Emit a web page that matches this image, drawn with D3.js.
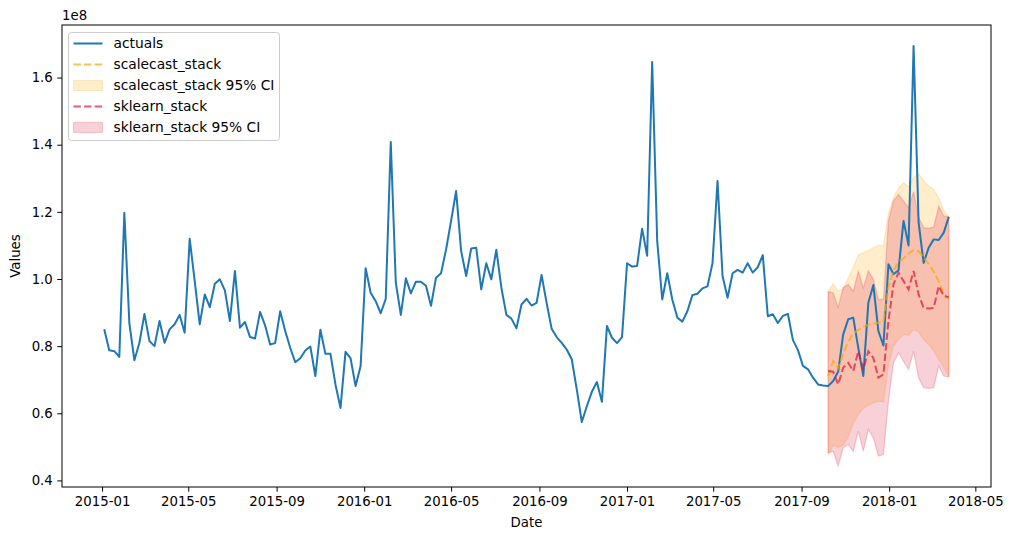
<!DOCTYPE html>
<html>
<head>
<meta charset="utf-8">
<script src="https://cdn.jsdelivr.net/npm/d3@7"></script>
<style>
  body { margin: 0; background: #fff; }
  svg { display: block; font-family: "DejaVu Sans", sans-serif; }
</style>
</head>
<body>
<svg width="1014" height="540"></svg>
<script>
// values are in units of 1e8 (matplotlib offset label)
const START_DATE = new Date(2015, 0, 4);
const FORECAST_START = 144; // index of first forecast week (2017-10-08)

const actuals = [
  0.850, 0.788, 0.785, 0.768, 1.197, 0.868, 0.758, 0.810, 0.896, 0.815,
  0.800, 0.875, 0.810, 0.850, 0.865, 0.893, 0.840, 1.120, 0.994, 0.865,
  0.954, 0.916, 0.986, 0.999, 0.966, 0.875, 1.024, 0.855, 0.872, 0.827,
  0.823, 0.902, 0.862, 0.805, 0.809, 0.904, 0.845, 0.795, 0.752, 0.764,
  0.787, 0.799, 0.711, 0.849, 0.777, 0.777, 0.686, 0.616, 0.783, 0.764,
  0.681, 0.741, 1.032, 0.959, 0.934, 0.898, 0.941, 1.408, 0.989, 0.893,
  1.002, 0.957, 0.992, 0.992, 0.980, 0.920, 1.004, 1.017, 1.088, 1.173,
  1.262, 1.083, 1.009, 1.091, 1.093, 0.969, 1.047, 0.999, 1.087, 0.974,
  0.893, 0.882, 0.853, 0.924, 0.941, 0.921, 0.929, 1.012, 0.929, 0.852,
  0.827, 0.810, 0.790, 0.761, 0.671, 0.574, 0.621, 0.664, 0.693, 0.634,
  0.860, 0.825, 0.809, 0.827, 1.047, 1.037, 1.039, 1.150, 1.069, 1.646,
  1.113, 0.939, 1.017, 0.939, 0.885, 0.873, 0.904, 0.952, 0.956, 0.972,
  0.978, 1.047, 1.292, 1.009, 0.944, 1.017, 1.027, 1.019, 1.047, 1.019,
  1.035, 1.071, 0.889, 0.895, 0.869, 0.890, 0.896, 0.818, 0.788, 0.741,
  0.731, 0.706, 0.686, 0.683, 0.681, 0.696, 0.724, 0.835, 0.880, 0.885,
  0.795, 0.711, 0.929, 0.982, 0.845, 0.802, 1.044, 1.014, 1.026, 1.173,
  1.100, 1.694, 1.168, 1.048, 1.093, 1.118, 1.116, 1.138, 1.185
];

const scalecastStack = [
  0.710, 0.755, 0.735, 0.778, 0.812, 0.838, 0.848, 0.858, 0.864, 0.867,
  0.870, 0.872, 0.975, 1.025, 1.050, 1.062, 1.076, 1.086, 1.082, 1.065,
  1.044, 1.022, 0.993, 0.955, 0.940
];
const scalecastUpper = [
  0.962, 0.986, 0.964, 0.970, 1.004, 1.034, 1.072, 1.078, 1.085, 1.093,
  1.100, 1.100, 1.195, 1.242, 1.270, 1.287, 1.275, 1.302, 1.314, 1.292,
  1.277, 1.267, 1.242, 1.205, 1.185
];
const scalecastLower = [
  0.474, 0.505, 0.498, 0.505, 0.530, 0.570, 0.597, 0.615, 0.625, 0.631,
  0.636, 0.634, 0.745, 0.800, 0.820, 0.835, 0.832, 0.850, 0.842, 0.820,
  0.805, 0.787, 0.760, 0.738, 0.708
];

const sklearnStack = [
  0.726, 0.724, 0.686, 0.736, 0.750, 0.726, 0.785, 0.731, 0.785, 0.765,
  0.706, 0.716, 0.875, 0.984, 1.019, 0.994, 0.969, 1.024, 0.954, 0.914,
  0.912, 0.914, 0.979, 0.949, 0.946
];
const sklearnUpper = [
  0.962, 0.959, 0.916, 0.974, 0.984, 0.964, 1.022, 0.974, 1.024, 0.999,
  0.939, 0.939, 1.173, 1.232, 1.252, 1.232, 1.212, 1.260, 1.183, 1.153,
  1.151, 1.155, 1.217, 1.188, 1.185
];
const sklearnLower = [
  0.482, 0.487, 0.443, 0.497, 0.507, 0.487, 0.547, 0.487, 0.552, 0.527,
  0.472, 0.477, 0.636, 0.750, 0.780, 0.755, 0.731, 0.785, 0.706, 0.676,
  0.674, 0.676, 0.741, 0.711, 0.708
];

const xTickDates = ["2015-01", "2015-05", "2015-09", "2016-01", "2016-05", "2016-09",
  "2017-01", "2017-05", "2017-09", "2018-01", "2018-05"];
const yTicks = [0.4, 0.6, 0.8, 1.0, 1.2, 1.4, 1.6];

const [LEFT, RIGHT, TOP, BOTTOM] = [62, 991, 25, 487];
const FONT = 13.3;
const LEGEND_FONT = 13.8;
const DASH = "7.4,3.2";
const LINE_ALPHA = 0.7;

const dates = actuals.map((d, i) => d3.timeDay.offset(START_DATE, 7 * i));
const fDates = dates.slice(FORECAST_START);

const svg = d3.select("svg");

// matplotlib style 5% margins
const pad = (lo, hi) => { const m = (hi - lo) * 0.05; return [lo - m, hi + m]; };
const xExt = d3.extent(dates);
const xSpan = xExt[1] - xExt[0];
const x = d3.scaleTime()
  .domain([new Date(+xExt[0] - xSpan * 0.05), new Date(+xExt[1] + xSpan * 0.05)])
  .range([LEFT, RIGHT]);
const allY = actuals.concat(scalecastUpper, scalecastLower, sklearnUpper, sklearnLower);
const y = d3.scaleLinear().domain(pad(d3.min(allY), d3.max(allY))).range([BOTTOM, TOP]);

const parseMonth = d3.timeParse("%Y-%m");

const lineGen = (vals, ds) => d3.line()
  .x((d, i) => x(ds[i]))
  .y((d) => y(d))(vals);
const areaGen = (lo, hi, ds) => d3.area()
  .x((d, i) => x(ds[i]))
  .y0((d, i) => y(lo[i]))
  .y1((d) => y(d))(hi);

const plot = svg.append("g");

// confidence bands sit below the lines (like matplotlib zorder)
plot.append("path")
  .attr("d", areaGen(scalecastLower, scalecastUpper, fDates))
  .attr("fill", "#ffa500").attr("fill-opacity", 0.2)
  .attr("stroke", "#ffa500").attr("stroke-opacity", 0.2).attr("stroke-width", 1.3);
plot.append("path")
  .attr("d", areaGen(sklearnLower, sklearnUpper, fDates))
  .attr("fill", "#dc143c").attr("fill-opacity", 0.2)
  .attr("stroke", "#dc143c").attr("stroke-opacity", 0.2).attr("stroke-width", 1.3);

// actuals
plot.append("path")
  .attr("d", lineGen(actuals, dates))
  .attr("fill", "none")
  .attr("stroke", "#1f77b4")
  .attr("stroke-width", 2)
  .attr("stroke-linejoin", "round");

// forecasts
plot.append("path")
  .attr("d", lineGen(scalecastStack, fDates))
  .attr("fill", "none")
  .attr("stroke", "#ffa500").attr("stroke-opacity", LINE_ALPHA)
  .attr("stroke-width", 2)
  .attr("stroke-dasharray", DASH);
plot.append("path")
  .attr("d", lineGen(sklearnStack, fDates))
  .attr("fill", "none")
  .attr("stroke", "#dc143c").attr("stroke-opacity", LINE_ALPHA)
  .attr("stroke-width", 2)
  .attr("stroke-dasharray", DASH);

// axes
const xAxis = svg.append("g")
  .attr("transform", `translate(0,${BOTTOM})`)
  .call(d3.axisBottom(x)
    .tickValues(xTickDates.map(parseMonth))
    .tickFormat(d3.timeFormat("%Y-%m"))
    .tickSize(4.7).tickPadding(4.5));
const yAxis = svg.append("g")
  .attr("transform", `translate(${LEFT},0)`)
  .call(d3.axisLeft(y)
    .tickValues(yTicks)
    .tickFormat(d3.format(".1f"))
    .tickSize(4.7).tickPadding(4.5));
[xAxis, yAxis].forEach((g) => {
  g.select(".domain").remove();
  g.selectAll("line").attr("stroke", "#000").attr("stroke-width", 1);
  g.selectAll("text").attr("fill", "#000").style("font-size", FONT + "px")
    .style("font-family", "DejaVu Sans");
});

svg.append("rect")
  .attr("x", LEFT).attr("y", TOP)
  .attr("width", RIGHT - LEFT).attr("height", BOTTOM - TOP)
  .attr("fill", "none").attr("stroke", "#000").attr("stroke-width", 1);

svg.append("text").text("1e8")
  .attr("x", LEFT).attr("y", 20)
  .style("font-size", FONT + "px");
svg.append("text").text("Date")
  .attr("x", (LEFT + RIGHT) / 2).attr("y", 527)
  .attr("text-anchor", "middle")
  .style("font-size", FONT + "px");
svg.append("text").text("Values")
  .attr("transform", `translate(20,${(TOP + BOTTOM) / 2}) rotate(-90)`)
  .attr("text-anchor", "middle")
  .style("font-size", FONT + "px");

// legend
const legendItems = [
  { label: "actuals", kind: "line", color: "#1f77b4" },
  { label: "scalecast_stack", kind: "dash", color: "#ffa500" },
  { label: "scalecast_stack 95% CI", kind: "patch", color: "#ffa500" },
  { label: "sklearn_stack", kind: "dash", color: "#dc143c" },
  { label: "sklearn_stack 95% CI", kind: "patch", color: "#dc143c" }
];
const legend = svg.append("g").attr("transform", "translate(68.5,32.5)");
legend.append("rect")
  .attr("width", 211).attr("height", 108).attr("rx", 3)
  .attr("fill", "#fff").attr("fill-opacity", 0.8)
  .attr("stroke", "#cccccc").attr("stroke-width", 1);
const rows = legend.selectAll("g.row").data(legendItems).enter()
  .append("g").attr("transform", (d, i) => `translate(0,${11 + i * 21})`);
rows.filter((d) => d.kind !== "patch").append("line")
  .attr("x1", 5).attr("x2", 34).attr("y1", 0).attr("y2", 0)
  .attr("stroke", (d) => d.color).attr("stroke-width", 2)
  .attr("stroke-opacity", (d) => (d.kind === "dash" ? LINE_ALPHA : 1))
  .attr("stroke-dasharray", (d) => (d.kind === "dash" ? DASH : null));
rows.filter((d) => d.kind === "patch").append("rect")
  .attr("x", 5).attr("y", -5).attr("width", 29).attr("height", 10)
  .attr("fill", (d) => d.color).attr("fill-opacity", 0.2)
  .attr("stroke", (d) => d.color).attr("stroke-opacity", 0.2);
rows.append("text").text((d) => d.label)
  .attr("x", 45).attr("y", 4.8)
  .style("font-size", LEGEND_FONT + "px");
</script>
</body>
</html>
